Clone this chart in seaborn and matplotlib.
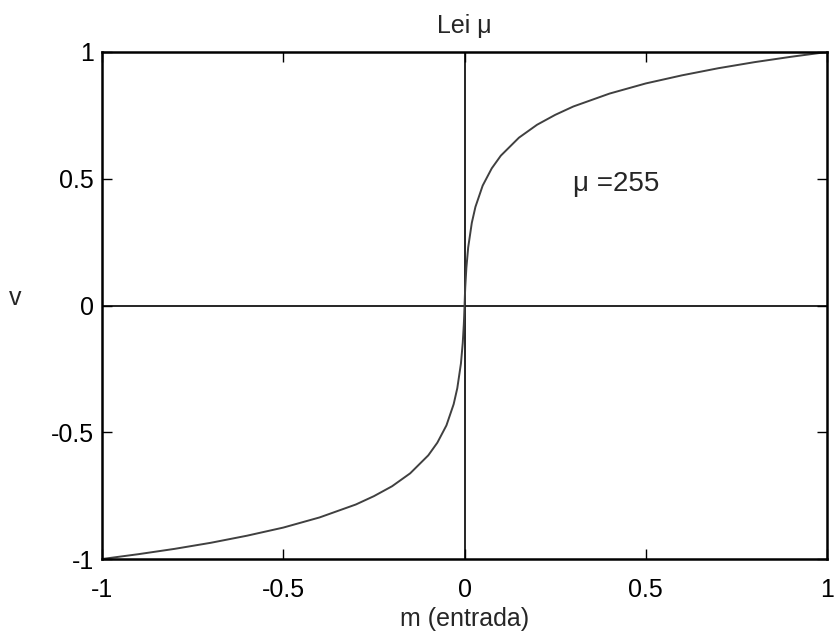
import matplotlib
matplotlib.use("Agg")
import matplotlib.pyplot as plt
import seaborn as sns
import pandas as pd

# Values (mu-law compander, mu = 255)
m_pos = [0.0, 0.001, 0.002, 0.005, 0.01, 0.02, 0.03, 0.05, 0.075, 0.1,
         0.15, 0.2, 0.25, 0.3, 0.4, 0.5, 0.6, 0.7, 0.8, 0.9, 1.0]
v_pos = [0.0, 0.041, 0.074, 0.148, 0.229, 0.326, 0.389, 0.473, 0.541, 0.591,
         0.662, 0.713, 0.752, 0.785, 0.836, 0.876, 0.908, 0.936, 0.960, 0.981, 1.0]
m_neg = [-1.0, -0.9, -0.8, -0.7, -0.6, -0.5, -0.4, -0.3, -0.25, -0.2,
         -0.15, -0.1, -0.075, -0.05, -0.03, -0.02, -0.01, -0.005, -0.002, -0.001]
v_neg = [-1.0, -0.981, -0.960, -0.936, -0.908, -0.876, -0.836, -0.785, -0.752, -0.713,
         -0.662, -0.591, -0.541, -0.473, -0.389, -0.326, -0.229, -0.148, -0.074, -0.041]

xticks = [-1, -0.5, 0, 0.5, 1]
xticklabels = ["-1", "-0.5", "0", "0.5", "1"]
yticks = [-1, -0.5, 0, 0.5, 1]
yticklabels = ["-1", "-0.5", "0", "0.5", "1"]

df = pd.DataFrame({"m": m_neg + m_pos, "v": v_neg + v_pos})

sns.set_style("ticks")
plt.rcParams["font.family"] = ["Liberation Sans", "DejaVu Sans"]
plt.rcParams["xtick.direction"] = "in"
plt.rcParams["ytick.direction"] = "in"

fig = plt.figure(figsize=(8.35, 6.38), dpi=100)
ax = fig.add_axes([0.1222, 0.1238, 0.8683, 0.7947])

ax.axhline(0, color="black", lw=1.2)
ax.axvline(0, color="black", lw=1.2)
sns.lineplot(data=df, x="m", y="v", ax=ax, color="#404040", lw=1.4, sort=True)

ax.set_xlim(-1, 1)
ax.set_ylim(-1, 1)
ax.set_xticks(xticks)
ax.set_xticklabels(xticklabels)
ax.set_yticks(yticks)
ax.set_yticklabels(yticklabels)
ax.tick_params(axis="both", which="major", labelsize=18, length=7, width=1,
               top=True, right=True, colors="black")
ax.tick_params(axis="x", pad=14)
ax.tick_params(axis="y", pad=6)

for s in ax.spines.values():
    s.set_visible(True)
    s.set_linewidth(1.8)
    s.set_color("black")

ax.set_title("Lei μ", fontsize=18, pad=14)
ax.set_xlabel("m (entrada)", fontsize=18, labelpad=3)
ax.set_ylabel("v", fontsize=18, rotation=0, va="center", ha="center")
ax.yaxis.set_label_coords(-0.12, 0.515)

ax.text(0.3, 0.48, "μ =255", fontsize=20, ha="left", va="center")

fig.savefig("out.png", dpi=100)
